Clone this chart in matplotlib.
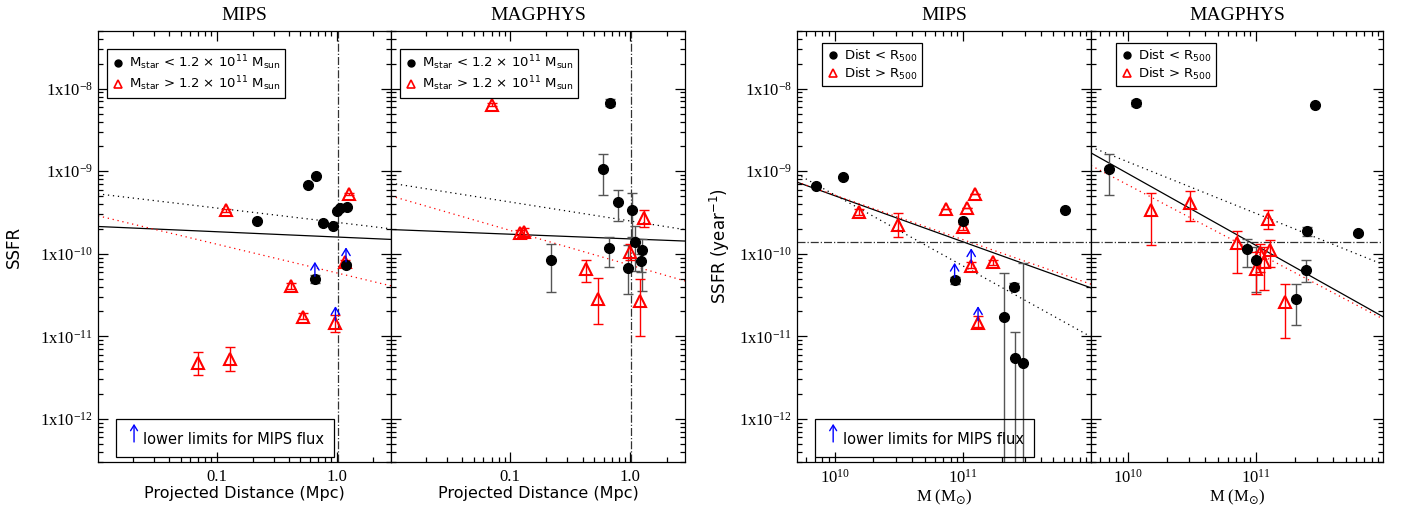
import numpy as np
import matplotlib
matplotlib.use("Agg")
import matplotlib.pyplot as plt
from matplotlib.lines import Line2D
from matplotlib.patches import Rectangle
from matplotlib.ticker import LogLocator, FixedLocator, FuncFormatter, NullFormatter

# ---------------- data ----------------
# panel 1: MIPS vs projected distance (Mpc)
p1_blk_x = [0.217, 0.58, 0.668, 0.769, 0.93, 1.0, 1.07, 1.22, 0.66, 1.2]
p1_blk_y = [2.48e-10, 6.9e-10, 8.7e-10, 2.35e-10, 2.19e-10, 3.28e-10, 3.6e-10, 3.67e-10, 4.94e-11, 7.4e-11]
p1_blk_lo = [2.48e-10, 6.9e-10, 8.7e-10, 2.35e-10, 2.19e-10, 3.28e-10, 3.6e-10, 3.67e-10, 4.4e-11, 7.0e-11]
p1_blk_hi = [2.48e-10, 6.9e-10, 8.7e-10, 2.35e-10, 2.19e-10, 3.28e-10, 3.6e-10, 3.67e-10, 5.5e-11, 7.8e-11]
p1_red_x = [0.119, 1.27, 1.17, 0.42, 0.52, 0.98, 0.07, 0.13]
p1_red_y = [3.35e-10, 5.3e-10, 7.85e-11, 4.07e-11, 1.73e-11, 1.43e-11, 4.7e-12, 5.3e-12]
p1_red_lo = [3.2e-10, 5.1e-10, 7.3e-11, 3.7e-11, 1.6e-11, 1.12e-11, 3.4e-12, 3.8e-12]
p1_red_hi = [3.5e-10, 5.5e-10, 8.4e-11, 4.4e-11, 1.9e-11, 1.8e-11, 6.5e-12, 7.4e-12]
p1_lim_x = [0.66, 1.2, 0.98]
p1_lim_y = [4.94e-11, 7.4e-11, 1.43e-11]

# panel 2: MAGPHYS vs projected distance (Mpc)
p2_blk_x = [0.59, 0.79, 1.03, 1.09, 1.25, 1.23, 0.96, 0.67, 0.22, 0.68]
p2_blk_y = [1.07e-9, 4.19e-10, 3.41e-10, 1.4e-10, 1.11e-10, 8.1e-11, 6.65e-11, 1.17e-10, 8.4e-11, 6.8e-9]
p2_blk_lo = [5.2e-10, 2.5e-10, 1.6e-10, 6.1e-11, 3.5e-11, 6.0e-11, 3.3e-11, 7.0e-11, 3.4e-11, 6.2e-9]
p2_blk_hi = [1.62e-9, 5.85e-10, 5.5e-10, 2.19e-10, 1.5e-10, 1.0e-10, 1.26e-10, 1.6e-10, 1.33e-10, 7.4e-9]
p2_red_x = [0.12, 0.13, 1.29, 1.0, 0.43, 0.54, 1.2, 0.071]
p2_red_y = [1.8e-10, 1.82e-10, 2.7e-10, 1.06e-10, 6.45e-11, 2.8e-11, 2.65e-11, 6.4e-9]
p2_red_lo = [1.7e-10, 1.65e-10, 2.1e-10, 8.5e-11, 4.6e-11, 1.4e-11, 1.0e-11, 6.1e-9]
p2_red_hi = [1.95e-10, 2.05e-10, 3.4e-10, 1.3e-10, 8.4e-11, 5.1e-11, 4.9e-11, 6.7e-9]

# panel 3: MIPS vs stellar mass
p3_blk_x = [7.2e9, 1.17e10, 1.0e11, 6.2e11, 8.55e10, 2.46e11, 2.05e11, 2.5e11, 2.9e11]
p3_blk_y = [6.7e-10, 8.5e-10, 2.48e-10, 3.35e-10, 4.8e-11, 3.96e-11, 1.7e-11, 5.5e-12, 4.8e-12]
p3_blk_lo = [6.7e-10, 8.5e-10, 2.4e-10, 3.35e-10, 4.3e-11, 3.6e-11, 1e-14, 1e-14, 1e-14]
p3_blk_hi = [6.7e-10, 8.5e-10, 2.6e-10, 3.35e-10, 5.3e-11, 4.4e-11, 5.9e-11, 1.12e-11, 7.8e-11]
p3_red_x = [1.54e10, 3.13e10, 7.3e10, 1.07e11, 1.22e11, 1.0e11, 1.15e11, 1.7e11, 1.3e11]
p3_red_y = [3.2e-10, 2.25e-10, 3.5e-10, 3.6e-10, 5.3e-10, 2.1e-10, 7.2e-11, 7.85e-11, 1.43e-11]
p3_red_lo = [2.95e-10, 1.6e-10, 3.5e-10, 3.6e-10, 5.3e-10, 1.95e-10, 6.8e-11, 7.4e-11, 1.3e-11]
p3_red_hi = [3.5e-10, 3.1e-10, 3.5e-10, 3.6e-10, 5.3e-10, 2.3e-10, 8.0e-11, 8.3e-11, 1.75e-11]
p3_lim_x = [8.55e10, 1.15e11, 1.3e11]
p3_lim_y = [4.8e-11, 7.2e-11, 1.43e-11]

# panel 4: MAGPHYS vs stellar mass
p4_blk_x = [1.14e10, 2.9e11, 7.0e9, 2.5e11, 6.2e11, 8.45e10, 1.0e11, 2.46e11, 2.04e11]
p4_blk_y = [6.7e-9, 6.4e-9, 1.05e-9, 1.88e-10, 1.78e-10, 1.14e-10, 8.4e-11, 6.3e-11, 2.8e-11]
p4_blk_lo = [6.1e-9, 6.4e-9, 5.15e-10, 1.65e-10, 1.7e-10, 7.0e-11, 3.4e-11, 4.6e-11, 1.37e-11]
p4_blk_hi = [7.3e-9, 6.4e-9, 1.6e-9, 2.1e-10, 1.85e-10, 1.5e-10, 1.2e-10, 8.5e-11, 4.3e-11]
p4_red_x = [1.49e10, 3.06e10, 1.24e11, 7.1e10, 1.0e11, 1.07e11, 1.16e11, 1.29e11, 1.69e11]
p4_red_y = [3.35e-10, 4.1e-10, 2.65e-10, 1.35e-10, 6.6e-11, 1.03e-10, 8.0e-11, 1.1e-10, 2.6e-11]
p4_red_lo = [1.27e-10, 2.5e-10, 2.0e-10, 5.9e-11, 3.3e-11, 6.0e-11, 3.6e-11, 7.0e-11, 9.6e-12]
p4_red_hi = [5.4e-10, 5.75e-10, 3.35e-10, 1.9e-10, 1.06e-10, 1.3e-10, 1.2e-10, 1.45e-10, 4.3e-11]

# power-law fits: (log10 SSFR at pivot, slope) -> black solid, black dotted, red dotted
p1_fits = [(-9.797, -0.064), (-9.619, -0.173), (-10.231, -0.347)]
p2_fits = [(-9.820, -0.057), (-9.603, -0.230), (-10.138, -0.421)]
p3_fits = [(-9.857, -0.561), (-10.150, -0.864), (-9.831, -0.542)]
p4_fits = [(-9.901, -0.869), (-9.512, -0.623), (-9.983, -0.814)]

R500_dist = 1.02      # Mpc, vertical dash-dot
ssfr_cut = 1.4e-10    # horizontal dash-dot

y_major = [1e-12, 1e-11, 1e-10, 1e-9, 1e-8]

# ---------------- figure ----------------
fig = plt.figure(figsize=(14.01, 5.12), dpi=100)
W, H = 1401.0, 512.0
top, bot = 31, 462
edges = [(98, 391), (391, 685), (797, 1091), (1091, 1383)]
axes = []
for x0, x1 in edges:
    axes.append(fig.add_axes([x0 / W, 1 - bot / H, (x1 - x0) / W, (bot - top) / H]))

SERIF = "Liberation Serif"
SANS = "DejaVu Sans"


def style_axis(ax, xlim, ylabels):
    ax.set_xscale("log")
    ax.set_yscale("log")
    ax.set_xlim(*xlim)
    ax.set_ylim(3e-13, 5e-8)
    ax.yaxis.set_major_locator(FixedLocator(y_major))
    ax.yaxis.set_minor_locator(LogLocator(base=10, subs=np.arange(2, 10), numticks=20))
    ax.xaxis.set_minor_locator(LogLocator(base=10, subs=np.arange(2, 10), numticks=20))
    ax.tick_params(which="both", direction="in", top=True, right=True, width=0.9)
    ax.tick_params(which="major", length=7)
    ax.tick_params(which="minor", length=3.5)
    if ylabels:
        ax.yaxis.set_major_formatter(FuncFormatter(
            lambda v, p: r"1x10$\mathregular{^{%d}}$" % int(round(np.log10(v)))))
    else:
        ax.yaxis.set_major_formatter(NullFormatter())
    ax.yaxis.set_minor_formatter(NullFormatter())
    for lab in ax.get_yticklabels():
        lab.set_fontfamily(SERIF)
        lab.set_fontsize(12)
    for s in ax.spines.values():
        s.set_linewidth(0.9)


def draw_points(ax, x, y, lo, hi, red):
    x, y, lo, hi = map(np.asarray, (x, y, lo, hi))
    err = [y - lo, hi - y]
    if red:
        ax.errorbar(x, y, yerr=err, fmt="none", ecolor="red", elinewidth=1, capsize=3.5, zorder=2)
        ax.plot(x, y, ls="none", marker="^", ms=8, mfc="none", mec="red", mew=1.5, zorder=3)
    else:
        ax.errorbar(x, y, yerr=err, fmt="none", ecolor="#555555", elinewidth=1, capsize=3.5, zorder=2)
        ax.plot(x, y, ls="none", marker="o", ms=7, color="black", zorder=4)


def draw_fits(ax, fits, pivot, xlim):
    xs = np.logspace(np.log10(xlim[0]), np.log10(xlim[1]), 50)
    styles = [dict(color="black", ls="-", lw=0.9),
              dict(color="black", ls=(0, (1, 3)), lw=0.9),
              dict(color="red", ls=(0, (1, 3)), lw=0.9)]
    for (a, b), st in zip(fits, styles):
        ax.plot(xs, 10 ** (a + b * np.log10(xs / pivot)), zorder=1, **st)


def draw_limits(ax, x, y):
    for xi, yi in zip(x, y):
        ax.annotate("", xy=(xi, yi * 1.75), xytext=(xi, yi),
                    arrowprops=dict(arrowstyle="->,head_width=0.3,head_length=0.5",
                                    color="blue", lw=1), zorder=5)


def limits_box(ax):
    ax.add_patch(Rectangle((0.061, 0.012), 0.744, 0.088, transform=ax.transAxes,
                           fill=False, ec="black", lw=0.9, zorder=6))
    ax.annotate("", xy=(0.123, 0.095), xytext=(0.123, 0.04), xycoords="axes fraction",
                arrowprops=dict(arrowstyle="->,head_width=0.25,head_length=0.4",
                                color="blue", lw=1))
    ax.text(0.155, 0.052, "lower limits for MIPS flux", transform=ax.transAxes,
            fontsize=10.5, family=SANS, va="center", ha="left")


circ = Line2D([], [], ls="none", marker="o", ms=5, color="black")
tri = Line2D([], [], ls="none", marker="^", ms=5.5, mfc="none", mec="red", mew=1.2)

dist_lim = (0.0102, 2.85)
mass_lim = (5.1e9, 9.8e11)
dist_ticks = [0.1, 1.0]
dist_ticklabels = ["0.1", "1.0"]
mass_ticks = [1e10, 1e11]

panels = [
    (p1_blk_x, p1_blk_y, p1_blk_lo, p1_blk_hi, p1_red_x, p1_red_y, p1_red_lo, p1_red_hi, p1_fits),
    (p2_blk_x, p2_blk_y, p2_blk_lo, p2_blk_hi, p2_red_x, p2_red_y, p2_red_lo, p2_red_hi, p2_fits),
    (p3_blk_x, p3_blk_y, p3_blk_lo, p3_blk_hi, p3_red_x, p3_red_y, p3_red_lo, p3_red_hi, p3_fits),
    (p4_blk_x, p4_blk_y, p4_blk_lo, p4_blk_hi, p4_red_x, p4_red_y, p4_red_lo, p4_red_hi, p4_fits),
]
titles = ["MIPS", "MAGPHYS", "MIPS", "MAGPHYS"]

for i, (ax, pdata) in enumerate(zip(axes, panels)):
    bx, by, blo, bhi, rx, ry, rlo, rhi, fits = pdata
    is_dist = i < 2
    xlim = dist_lim if is_dist else mass_lim
    style_axis(ax, xlim, ylabels=(i % 2 == 0))
    draw_fits(ax, fits, 1.0 if is_dist else 1e11, xlim)
    draw_points(ax, bx, by, blo, bhi, red=False)
    draw_points(ax, rx, ry, rlo, rhi, red=True)
    ax.set_title(titles[i], family=SERIF, fontsize=14, pad=8)

    if is_dist:
        ax.axvline(R500_dist, color="#333333", ls="-.", lw=0.9, zorder=1)
        ax.set_xticks(dist_ticks)
        ax.set_xticklabels(dist_ticklabels)
        ax.set_xlabel("Projected Distance (Mpc)", family=SANS, fontsize=11.5, labelpad=1)
        labels = [r"M$\mathregular{_{star}}$ < 1.2 $\times$ 10$\mathregular{^{11}}$ M$\mathregular{_{sun}}$",
                  r"M$\mathregular{_{star}}$ > 1.2 $\times$ 10$\mathregular{^{11}}$ M$\mathregular{_{sun}}$"]
        anchor = (0.031, 0.958)
    else:
        ax.axhline(ssfr_cut, color="#333333", ls="-.", lw=0.9, zorder=1)
        ax.set_xticks(mass_ticks)
        ax.set_xticklabels([r"10$\mathregular{^{%d}}$" % int(round(np.log10(v))) for v in mass_ticks])
        ax.set_xlabel(r"M (M$_{\odot}$)", family=SERIF, fontsize=12, labelpad=1)
        labels = [r"Dist < R$\mathregular{_{500}}$", r"Dist > R$\mathregular{_{500}}$"]
        anchor = (0.085, 0.972)
    ax.xaxis.set_minor_formatter(NullFormatter())
    for lab in ax.get_xticklabels():
        lab.set_fontfamily(SERIF)
        lab.set_fontsize(12)
    ax.tick_params(axis="x", pad=5)

    leg = ax.legend([circ, tri], labels, loc="upper left", bbox_to_anchor=anchor,
                    borderaxespad=0, fancybox=False, framealpha=1, edgecolor="black",
                    prop=dict(family=SANS, size=9.5), handletextpad=0.3, handlelength=1.0,
                    borderpad=0.35, labelspacing=0.15)
    leg.get_frame().set_linewidth(0.9)

draw_limits(axes[0], p1_lim_x, p1_lim_y)
draw_limits(axes[2], p3_lim_x, p3_lim_y)
limits_box(axes[0])
limits_box(axes[2])

axes[0].set_ylabel("SSFR", family=SANS, fontsize=12, labelpad=12)
axes[2].set_ylabel(r"SSFR (year$\mathregular{^{-1}}$)", family=SANS, fontsize=12, labelpad=5)

fig.savefig("out.png", dpi=100)
